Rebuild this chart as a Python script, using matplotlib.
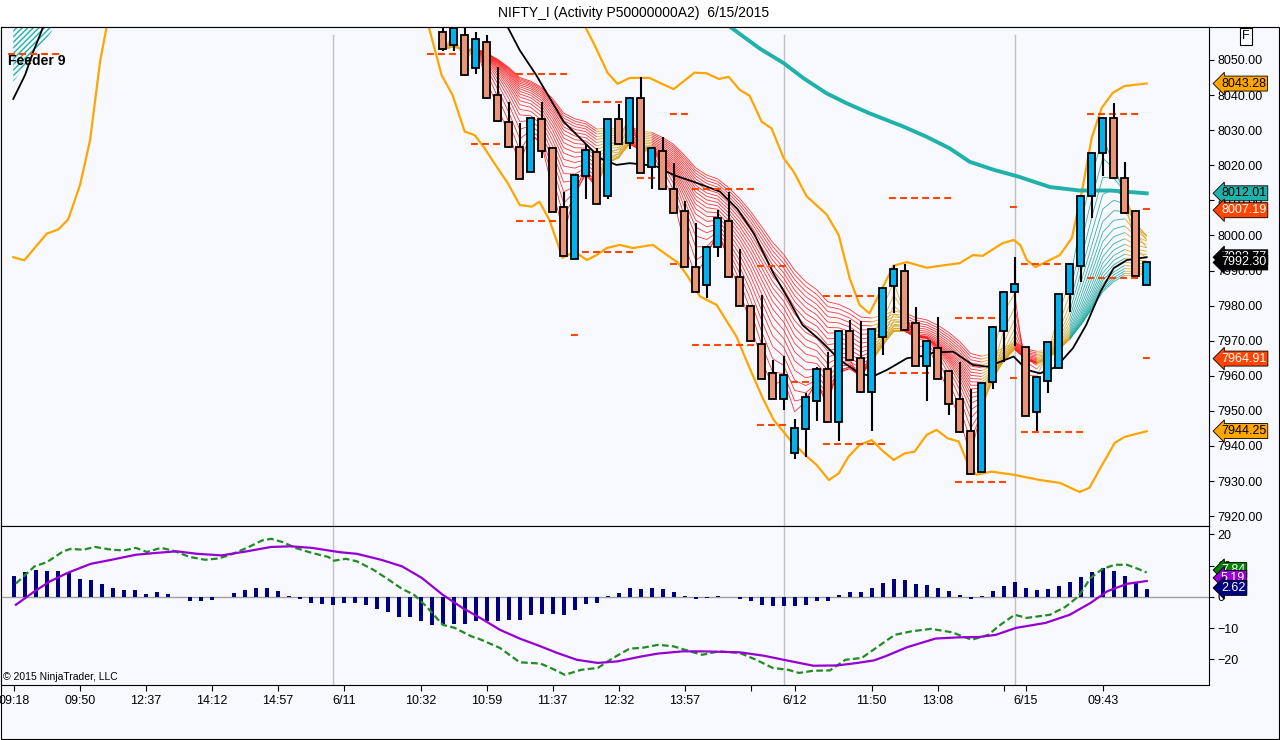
import numpy as np
import matplotlib
matplotlib.use("Agg")
import matplotlib.pyplot as plt
from matplotlib.collections import LineCollection
from matplotlib.patches import Rectangle, Polygon
from matplotlib.transforms import blended_transform_factory

plt.rcParams['font.family'] = ['Liberation Sans', 'DejaVu Sans']

# ---- candles (bar index 39 .. 103) ----
first_bar = 39
opens = [8058.0, 8054.2, 8057.0, 8047.6, 8055.0, 8040.0, 8032.4, 8025.3, 8018.2, 8033.2,
         8025.0, 8008.2, 7993.3, 8016.8, 8023.9, 8011.3, 8033.2, 8026.4, 8039.3, 8019.6,
         8024.1, 8013.3, 8007.1, 7991.1, 7985.9, 7996.8, 8004.1, 7988.1, 7980.0, 7969.0,
         7960.7, 7953.4, 7938.1, 7944.9, 7952.9, 7961.9, 7946.8, 7972.9, 7965.0, 7955.3,
         7971.1, 7985.7, 7990.0, 7975.0, 7962.8, 7967.9, 7961.4, 7953.3, 7944.3, 7932.7,
         7958.2, 7972.8, 7983.9, 7968.1, 7949.8, 7958.5, 7962.3, 7983.2, 7991.4, 8011.1,
         8023.6, 8033.6, 8016.5, 8007.1, 7985.9]
highs = [8061.0, 8061.0, 8060.0, 8058.0, 8057.0, 8047.9, 8038.1, 8032.0, 8033.5, 8037.9,
         8025.2, 8012.5, 8017.2, 8026.2, 8024.8, 8033.3, 8037.5, 8039.4, 8045.1, 8025.1,
         8028.0, 8020.6, 8009.8, 8003.5, 7997.0, 8007.3, 8012.3, 7996.1, 7980.1, 7983.0,
         7964.5, 7965.7, 7947.6, 7955.0, 7962.6, 7966.8, 7973.0, 7975.9, 7975.5, 7973.4,
         7985.0, 7991.6, 7991.9, 7979.5, 7969.9, 7976.9, 7961.5, 7963.8, 7956.2, 7958.0,
         7974.1, 7984.1, 7993.8, 7968.2, 7959.9, 7969.6, 7983.3, 7992.1, 8011.4, 8023.7,
         8033.7, 8037.7, 8021.0, 8007.2, 7992.4]
lows = [8052.5, 8052.6, 8045.5, 8045.9, 8039.0, 8032.4, 8025.0, 8016.0, 8018.0, 8022.2,
        8006.8, 7994.0, 7993.3, 8010.4, 8009.0, 8010.4, 8026.0, 8024.6, 8017.8, 8013.3,
        8013.0, 8006.4, 7991.0, 7983.9, 7982.1, 7993.9, 7988.2, 7979.8, 7970.0, 7959.0,
        7953.3, 7950.3, 7936.2, 7937.0, 7947.1, 7946.7, 7941.5, 7964.4, 7955.2, 7944.4,
        7965.9, 7977.8, 7973.0, 7962.7, 7952.7, 7959.0, 7948.7, 7943.8, 7931.8, 7932.5,
        7956.2, 7963.8, 7968.5, 7948.5, 7944.3, 7955.0, 7962.2, 7978.1, 7986.7, 8005.1,
        8016.8, 8016.2, 8006.2, 7988.4, 7985.8]
closes = [8053.1, 8059.0, 8045.7, 8056.0, 8039.3, 8032.6, 8025.3, 8016.1, 8033.4, 8024.1,
          8006.8, 7994.2, 8017.1, 8024.4, 8009.0, 8033.2, 8026.0, 8039.3, 8017.9, 8025.0,
          8013.1, 8006.5, 7991.1, 7984.0, 7996.8, 8005.1, 7988.3, 7979.9, 7970.0, 7959.1,
          7953.4, 7960.1, 7945.1, 7954.1, 7961.9, 7946.8, 7972.9, 7964.5, 7955.3, 7973.3,
          7984.9, 7990.4, 7973.1, 7962.8, 7969.8, 7959.1, 7952.0, 7943.9, 7931.9, 7957.9,
          7974.0, 7984.0, 7986.1, 7948.6, 7959.8, 7969.5, 7983.2, 7992.0, 8011.3, 8023.6,
          8033.6, 8016.3, 8006.3, 7988.5, 7992.3]

# ---- overlay lines (bar index, price) ----
upper_i = [51.7, 52.8, 54.0, 54.9, 56.0, 57.8, 58.8, 60.0, 61.9, 63.0, 64.1, 65.0, 66.0, 66.9,
           68.0, 68.9, 70.0, 70.9, 72.1, 73.9, 75.0, 76.0, 76.9, 77.8, 78.8, 80.0, 81.2, 83.0,
           84.8, 86.0, 87.2, 88.1, 89.9, 90.9, 91.5, 92.1, 92.9, 95.1, 96.2, 97.1, 98.0, 98.9,
           99.9, 101.0, 103.0]
upper_p = [8061.0, 8054.3, 8046.3, 8043.2, 8044.9, 8044.9, 8043.4, 8041.7, 8046.4, 8046.2,
           8044.6, 8045.2, 8041.5, 8039.8, 8032.4, 8030.5, 8022.0, 8018.2, 8011.1, 8006.0,
           8000.1, 7987.8, 7980.2, 7977.8, 7984.0, 7991.4, 7992.4, 7990.8, 7991.6, 7992.1,
           7994.4, 7994.2, 7997.8, 7998.7, 7997.3, 7993.0, 7991.0, 7994.4, 7999.3, 8012.4,
           8027.8, 8036.3, 8040.6, 8042.6, 8043.3]
lower_left_i = [-0.04, 0.96, 3.0, 4.05, 4.96, 6.03, 6.94, 7.85, 8.6]
lower_left_p = [7993.8, 7992.9, 8000.5, 8001.7, 8004.6, 8014.4, 8027.1, 8049.5, 8062.0]
lower_i = [37.6, 38.9, 39.9, 41.0, 41.9, 42.8, 43.9, 44.9, 46.0, 47.1, 47.8, 48.7, 49.5, 49.9,
           51.0, 52.1, 53.0, 53.9, 55.1, 56.3, 58.1, 59.4, 60.4, 61.2, 62.4, 63.9, 65.7, 66.9,
           68.1, 69.1, 70.6, 72.1, 73.0, 74.1, 75.0, 75.9, 76.9, 78.0, 78.9, 80.0, 81.0, 81.9,
           83.0, 83.9, 84.9, 85.9, 86.8, 87.5, 88.9, 90.9, 93.3, 95.1, 96.9, 97.8, 98.8, 100.1,
           101.0, 103.0]
lower_p = [8061.0, 8045.7, 8040.0, 8029.6, 8028.6, 8024.9, 8019.6, 8015.0, 8008.7, 8008.2,
           8009.6, 8004.4, 7997.3, 7993.6, 7995.4, 7993.0, 7994.4, 7996.4, 7997.3, 7996.4,
           7997.3, 7994.4, 7992.2, 7988.7, 7982.6, 7980.2, 7971.2, 7962.2, 7953.6, 7947.4,
           7941.7, 7937.0, 7934.6, 7930.3, 7932.2, 7937.0, 7940.3, 7941.7, 7938.9, 7936.0,
           7937.9, 7938.4, 7943.2, 7944.6, 7942.2, 7941.3, 7934.6, 7931.8, 7932.7, 7931.8,
           7930.3, 7929.5, 7926.9, 7928.1, 7933.8, 7940.9, 7942.6, 7944.2]
teal_i = [64.8, 67.8, 70.0, 71.8, 73.9, 75.7, 77.8, 80.9, 83.0, 85.1, 86.9, 89.1, 91.3, 94.2,
          96.9, 99.7, 103.0]
teal_p = [8060.2, 8053.3, 8049.1, 8044.8, 8040.5, 8037.7, 8034.8, 8031.0, 8028.1, 8024.8,
          8021.0, 8018.7, 8016.8, 8013.8, 8012.8, 8012.8, 8012.0]
black_left_i = [-0.04, 1.03, 1.78, 2.39, 2.8]
black_left_p = [8038.9, 8045.7, 8052.4, 8057.1, 8060.5]
black_i = [44.8, 46.0, 47.5, 50.0, 52.1, 53.3, 54.8, 56.0, 57.5, 58.5, 60.0, 61.8, 64.2, 65.8,
           67.3, 69.1, 70.4, 71.7, 73.3, 75.1, 76.9, 78.1, 79.4, 81.2, 82.7, 83.6, 85.4, 87.2,
           88.5, 89.7, 90.9, 92.1, 93.3, 94.8, 96.3, 97.5, 98.8, 100.0, 101.2, 103.0]
black_p = [8060.0, 8052.8, 8045.7, 8032.4, 8025.8, 8022.0, 8020.1, 8020.6, 8020.1, 8019.6,
           8017.2, 8015.3, 8012.5, 8007.5, 8000.5, 7989.0, 7982.0, 7974.5, 7970.2, 7964.5,
           7960.7, 7959.8, 7961.7, 7965.0, 7965.7, 7966.6, 7966.9, 7963.1, 7962.6, 7964.0,
           7965.5, 7961.7, 7960.7, 7962.6, 7967.9, 7974.5, 7984.0, 7990.7, 7993.0, 7993.8]
fan_i = [-0.04, -0.04, 3.45, 3.7]
fan_p = [8060.0, 8043.8, 8058.1, 8060.0]

# dashed levels: start bar, end bar, price
lvl_start = [-0.5, 37.6, 41.6, 45.7, 45.7, 50.7, 51.7, 51.7, 56.7, 59.7, 59.7, 61.7, 61.7, 67.6,
             67.6, 70.7, 73.6, 73.6, 79.6, 79.6, 85.6, 85.6, 90.6, 90.6, 91.6, 91.6, 97.6, 97.6,
             102.7, 102.7]
lvl_end = [4.4, 41.3, 45.4, 50.4, 50.3, 51.3, 56.3, 56.3, 58.6, 61.3, 61.3, 67.4, 67.4, 70.4,
           70.4, 72.7, 79.4, 79.4, 85.4, 85.4, 90.4, 90.4, 91.4, 91.4, 97.4, 97.4, 102.4, 103.1,
           103.4, 103.4]
lvl_price = [8051.7, 8051.7, 8026.0, 8046.0, 8004.1, 7971.6, 8038.1, 7995.4, 8016.5, 8034.7,
             7991.9, 8013.1, 7968.9, 7991.4, 7946.1, 7958.3, 7982.8, 7940.6, 8010.8, 7960.9,
             7976.6, 7929.6, 8008.2, 7959.5, 7991.8, 7944.1, 8034.5, 7988.0, 8007.5, 7965.0]

# ---- MACD panel (bars 0 .. 103) ----
hist = [6.8, 8.0, 8.7, 8.2, 8.4, 7.7, 5.9, 5.5, 4.3, 3.0, 2.3, 2.3, 1.1, 1.7, 1.1,
        0.0, -1.4, -1.4, -0.85, 0.0, 1.4, 2.3, 3.0, 3.0, 2.0, 0.4, -0.5, -1.8, -2.1, -2.45,
        -1.8, -1.8, -2.45, -3.7, -4.9, -6.3, -6.3, -7.8, -8.9, -8.7, -8.7, -8.7, -7.6, -7.6, -7.6,
        -7.5, -7.5, -5.9, -5.3, -5.3, -5.7, -4.1, -2.1, -1.8, 0.3, 1.4, 3.0, 2.7, 3.0, 2.7,
        1.7, 0.4, -0.5, -0.2, 0.3, 0.0, -0.5, -1.4, -2.5, -3.0, -2.8, -3.0, -2.5, -1.2, -1.2,
        0.75, 1.7, 1.7, 3.0, 4.6, 5.9, 5.5, 4.3, 3.9, 3.0, 2.0, 0.75, -0.5, 0.4, 2.0,
        3.6, 4.9, 3.0, 2.3, 2.7, 3.6, 4.9, 6.5, 8.1, 9.4, 8.4, 6.8, 4.6, 2.62]
macd_i = [0.2, 1.9, 3.0, 4.5, 5.2, 6.3, 7.4, 8.9, 10.0, 11.1, 12.1, 13.4, 14.5, 16.0, 17.4, 18.6,
          19.7, 21.2, 22.6, 23.4, 24.5, 25.6, 27.1, 28.6, 29.1, 30.2, 31.2, 32.7, 34.1, 35.3,
          36.4, 37.5, 39.0, 40.1, 41.6, 42.3, 44.2, 46.0, 47.9, 49.0, 50.1, 51.6, 53.1, 54.5,
          56.0, 57.1, 58.6, 60.0, 61.5, 62.6, 64.1, 66.0, 67.5, 69.0, 70.4, 71.4, 72.7, 74.2,
          75.6, 77.1, 78.6, 80.1, 81.6, 83.4, 85.3, 87.1, 88.6, 89.7, 91.0, 92.1, 94.2, 95.6,
          96.8, 97.9, 99.0, 100.1, 101.2, 102.2, 103.0]
macd_v = [4.3, 9.8, 11.1, 14.6, 15.4, 15.1, 16.0, 15.1, 14.9, 15.7, 14.4, 15.7, 14.8, 12.8,
          11.9, 12.3, 13.5, 15.7, 18.1, 18.6, 17.5, 15.7, 14.1, 12.8, 11.6, 12.2, 11.4, 8.7, 5.5,
          2.6, 0.7, -3.0, -8.9, -9.9, -12.6, -13.4, -16.3, -20.9, -21.3, -23.0, -24.9, -23.3,
          -22.7, -19.5, -16.5, -16.3, -15.3, -15.8, -17.4, -18.5, -17.4, -17.9, -20.1, -22.7,
          -23.3, -24.3, -23.6, -23.5, -20.1, -19.5, -15.8, -12.1, -11.0, -10.2, -11.3, -13.7,
          -12.1, -8.9, -5.7, -6.7, -5.7, -3.2, 0.2, 6.1, 9.0, 10.3, 10.3, 9.0, 7.8]
sig_i = [0.2, 1.9, 3.3, 4.9, 7.0, 8.9, 11.1, 13.0, 14.8, 16.7, 18.9, 21.2, 23.4, 25.2, 27.1,
         29.7, 31.2, 33.4, 35.3, 37.1, 39.0, 40.8, 42.7, 44.2, 46.0, 47.9, 49.4, 51.2, 53.1,
         54.9, 57.1, 58.6, 60.8, 62.6, 66.0, 68.2, 70.0, 72.7, 74.9, 76.7, 78.2, 79.3, 81.2,
         83.8, 86.0, 87.8, 89.3, 91.1, 93.8, 96.0, 97.9, 99.4, 101.2, 103.0]
sig_v = [-2.5, 1.8, 5.0, 7.7, 10.6, 11.9, 13.5, 14.1, 14.6, 13.8, 13.3, 14.6, 16.0, 16.2, 15.7,
         14.3, 13.8, 11.9, 9.8, 6.1, 0.7, -3.5, -7.3, -10.5, -13.3, -15.8, -17.9, -20.1, -21.1,
         -20.6, -19.0, -18.1, -17.4, -17.4, -17.7, -18.8, -20.1, -22.0, -21.9, -21.1, -20.3,
         -18.9, -16.1, -13.3, -12.9, -12.8, -12.1, -9.9, -8.3, -5.7, -1.9, 1.8, 4.2, 5.1]

tick_pos = [0, 6, 12, 18, 24, 30, 37, 43, 49, 55, 61, 67, 71, 78, 84, 90, 92, 99]
tick_lbl = ['09:18', '09:50', '12:37', '14:12', '14:57', '6/11', '10:32', '10:59', '11:37',
            '12:32', '13:57', '', '6/12', '11:50', '13:08', '', '6/15', '09:43']
session_lines = [29, 70, 91]

price_tag_vals = [8043.28, 8012.01, 8007.19, 7993.77, 7992.30, 7964.91, 7944.25]
price_tag_fc = ['#FFA500', '#20B2AA', '#FF4500', 'black', 'black', '#FF4500', '#FFA500']
price_tag_tc = ['black', 'black', 'white', 'white', 'white', 'white', 'black']
macd_tag_vals = [7.84, 5.19, 2.62]
macd_tag_y = [8.6, 6.1, 2.9]
macd_tag_fc = ['#008000', '#9400D3', '#000080']


def ema(vals, n):
    a = 2.0 / (n + 1.0)
    out = np.empty(len(vals))
    out[0] = vals[0]
    for k in range(1, len(vals)):
        out[k] = a * vals[k] + (1 - a) * out[k - 1]
    return out


W, H = 1280, 740
bg = '#F8F9FE'
fig = plt.figure(figsize=(W / 100, H / 100), dpi=100, facecolor='white')
fig.patches.append(Rectangle((0.5 / W, 1.0 / H), 1278 / W, 712 / H, transform=fig.transFigure,
                             facecolor=bg, edgecolor='black', lw=0.8, zorder=-10))


def px_axes(x0, y0, x1, y1):
    a = fig.add_axes([x0 / W, 1 - y1 / H, (x1 - x0) / W, (y1 - y0) / H])
    a.set_facecolor(bg)
    for s in a.spines.values():
        s.set_color('black')
        s.set_linewidth(0.8)
    return a


ax = px_axes(1, 27, 1209, 526)
ax2 = px_axes(1, 526, 1209, 684.5)
xlim = ((1 - 13.7) / 11, (1209 - 13.7) / 11)

# ---- price panel ----
ax.plot(upper_i, upper_p, color='#FFA500', lw=1.6, zorder=2)
ax.plot(lower_left_i, lower_left_p, color='#FFA500', lw=1.6, zorder=2)
ax.plot(lower_i, lower_p, color='#FFA500', lw=1.6, zorder=2)
ax.plot(teal_i, teal_p, color='#20B2AA', lw=2.8, zorder=2.3)

ax.add_patch(Polygon(np.column_stack([fan_i, fan_p]), closed=True, facecolor='none',
                     edgecolor='#20B2AA', hatch='//////', lw=0, zorder=2.1))

closes_arr = np.array(closes)
xs = np.arange(first_bar, first_bar + len(closes))
periods = np.arange(2, 22)
emas = [ema(closes_arr, n) for n in periods]
spread = emas[0] - emas[-1]
cols = np.where(spread < -5, '#FF2020', np.where(spread > 20, '#20A8A0', '#DAA520'))
for line in emas:
    pts = np.column_stack([xs, line])
    segs = np.stack([pts[:-1], pts[1:]], axis=1)
    ax.add_collection(LineCollection(segs, colors=cols[1:], linewidths=0.6, alpha=0.9, zorder=2.2))

ax.plot(black_left_i, black_left_p, color='black', lw=1.3, zorder=2.4)
ax.plot(black_i, black_p, color='black', lw=1.3, zorder=2.4)

for s, e, p in zip(lvl_start, lvl_end, lvl_price):
    ax.plot([s, e], [p, p], color='#FF4500', lw=1.5, linestyle=(0, (3.3, 2.0)), zorder=2.6)

for k in session_lines:
    ax.axvline(k, ymax=0.984, color='#C0C0C0', lw=1, zorder=1)
    ax2.axvline(k, color='#C0C0C0', lw=1, zorder=1)

o = np.array(opens)
c = closes_arr
up = c >= o
ax.vlines(xs, lows, highs, color='black', lw=1.5, zorder=3)
ax.bar(xs, np.abs(c - o), bottom=np.minimum(o, c), width=0.6,
       color=np.where(up, '#00B2EE', '#E9967A'), edgecolor='black', linewidth=1.3, zorder=3.1)

ax.set_xlim(*xlim)
ax.set_ylim(7917.2, 8059.4)
ax.yaxis.tick_right()
ax.set_yticks(np.arange(7920, 8051, 10))
ax.yaxis.set_major_formatter('{x:.2f}')
ax.tick_params(axis='y', direction='out', length=3.6, width=0.8, labelsize=9, pad=2.2)
ax.tick_params(axis='x', bottom=False, labelbottom=False)

tr = blended_transform_factory(ax.transAxes, ax.transData)
for v, fc, tc in zip(price_tag_vals, price_tag_fc, price_tag_tc):
    ax.text((1221 - 1) / 1208, v, f'{v:.2f}', transform=tr, ha='left', va='center', fontsize=9,
            color=tc, clip_on=False, zorder=6,
            bbox=dict(boxstyle='larrow,pad=0.12', fc=fc, ec='black', lw=0.6))

# ---- MACD panel ----
ax2.axhline(0, color='#A0A0A0', lw=1, zorder=1)
ax2.bar(np.arange(len(hist)), hist, width=0.38, color='#000080', zorder=2)
ax2.plot(macd_i, macd_v, color='#228B22', lw=1.6, linestyle=(0, (3, 1.5)), zorder=3)
ax2.plot(sig_i, sig_v, color='#9400D3', lw=1.6, zorder=3)
ax2.set_xlim(*xlim)
ax2.set_ylim(-28.0, 22.7)
ax2.yaxis.tick_right()
ax2.set_yticks([-20, -10, 0, 10, 20])
ax2.yaxis.set_major_formatter('{x:.0f}')
ax2.tick_params(axis='y', direction='out', length=3.6, width=0.8, labelsize=9, pad=2.2)
ax2.set_xticks(tick_pos)
ax2.set_xticklabels(tick_lbl)
ax2.tick_params(axis='x', direction='out', length=4.3, width=0.8, labelsize=9, pad=3)

tr2 = blended_transform_factory(ax2.transAxes, ax2.transData)
for v, y, fc in zip(macd_tag_vals, macd_tag_y, macd_tag_fc):
    ax2.text((1221 - 1) / 1208, y, f'{v:.2f}', transform=tr2, ha='left', va='center', fontsize=9,
             color='white', clip_on=False, zorder=6,
             bbox=dict(boxstyle='larrow,pad=0.12', fc=fc, ec='black', lw=0.6))

# ---- texts ----
fig.text(634 / W, 1 - 13 / H, 'NIFTY_I (Activity P50000000A2)  6/15/2015', ha='center',
         va='center', fontsize=10)
fig.text(8 / W, 1 - 61 / H, 'Feeder 9', ha='left', va='center', fontsize=10, fontweight='bold')
fig.text(1246 / W, 1 - 36 / H, 'F', ha='center', va='center', fontsize=9,
         bbox=dict(boxstyle='square,pad=0.2', fc='white', ec='black', lw=0.8))
fig.text(3 / W, 1 - 677 / H, '\u00a9 2015 NinjaTrader, LLC', ha='left', va='center', fontsize=7.5)

fig.savefig('out.png', dpi=100, facecolor='white')
